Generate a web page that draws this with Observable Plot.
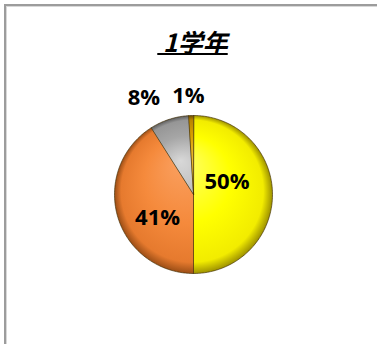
<!DOCTYPE html>
<html><head><meta charset="utf-8">
<script src="https://cdn.jsdelivr.net/npm/d3@7"></script>
<script src="https://cdn.jsdelivr.net/npm/@observablehq/plot@0.6"></script>
<style>
body{margin:0;background:#fff;}
#wrap{position:relative;width:377px;height:344px;overflow:hidden;}
#frame{position:absolute;left:4px;top:4px;width:420px;height:420px;border-top:2px solid #9c9c9c;border-left:2px solid #9c9c9c;box-sizing:border-box;box-shadow:inset 1px 1px 0 #d8d8d8;}
#title{position:absolute;left:0;width:385px;top:26px;text-align:center;font:italic bold 25px "Noto Sans CJK JP";line-height:30px;text-decoration:underline;text-decoration-thickness:2px;white-space:pre;color:#000;}
#chart{position:absolute;left:0;top:0;}
</style></head>
<body>
<div id="wrap"><div id="frame"></div><div id="chart"></div><div id="title"> 1学年</div></div>
<script>
const title = " 1学年";
const values = [50, 41, 8, 1];
const labels = ["50%", "41%", "8%", "1%"];
const colors = ["#FFFF00", "#F58A3C", "#A8A8A8", "#D9A000"];

const total = d3.sum(values);
let acc = 0;
const slices = values.map((v, i) => {
  const a0 = acc / total * 2 * Math.PI; acc += v;
  const a1 = acc / total * 2 * Math.PI;
  return {i, v, label: labels[i], a0, a1, mid: (a0 + a1) / 2};
});
const pts = [];
for (const s of slices) {
  pts.push({i: s.i, x: 0, y: 0});
  const n = Math.max(2, Math.ceil((s.a1 - s.a0) / 0.02));
  for (let k = 0; k <= n; k++) {
    const a = s.a0 + (s.a1 - s.a0) * k / n;
    pts.push({i: s.i, x: Math.sin(a), y: Math.cos(a)});
  }
}
const inside = new Set([0, 1]);
const lab = slices.map(s => {
  const r = inside.has(s.i) ? 0.5 : 1.25;
  return {label: s.label, i: s.i, x: r * Math.sin(s.mid), y: r * Math.cos(s.mid)};
});
const off = {0: [-6, -13], 1: [2, 12], 2: [-19, -3], 3: [-2, 0]};

const marks = [
  Plot.line(pts, {x: "x", y: "y", z: "i", fill: d => `url(#g${d.i})`, stroke: "#3d2a00", strokeWidth: 0.8, strokeOpacity: 0.8, curve: "linear-closed"})
];
for (const d of lab) {
  marks.push(Plot.text([d], {x: "x", y: "y", text: "label", dx: off[d.i][0], dy: off[d.i][1],
    fontSize: 22, fontWeight: "bold", fill: "#000", fontFamily: "Open Sans"}));
}
const svg = Plot.plot({
  width: 377, height: 344, margin: 0,
  x: {domain: [-1, 1], range: [114, 272], axis: null},
  y: {domain: [-1, 1], range: [273, 115], axis: null},
  color: {type: "identity"},
  style: {background: "transparent", fontFamily: "Open Sans"},
  marks
});
const defs = d3.select(svg).insert("defs", ":first-child");
const grads = [
  ["#FFFF70", "#FFFF00", "#F2EC00", "#9E9200"],
  ["#FAA060", "#F58A3C", "#E67A2E", "#9C4E16"],
  ["#D8D8D8", "#A6A6A6", "#969696", "#5E5E5E"],
  ["#F0C040", "#D9A000", "#B88400", "#6E4E00"]
];
grads.forEach((g, i) => {
  const rg = defs.append("radialGradient").attr("id", "g" + i)
    .attr("gradientUnits", "userSpaceOnUse").attr("cx", 193).attr("cy", 194).attr("r", 79)
    .attr("fx", 180).attr("fy", 160);
  [[0, g[0]], [0.55, g[1]], [0.9, g[2]], [1, g[3]]].forEach(([o, c]) =>
    rg.append("stop").attr("offset", o).attr("stop-color", c));
});
document.getElementById("chart").appendChild(svg);
document.getElementById("title").textContent = title;
</script>
</body></html>
